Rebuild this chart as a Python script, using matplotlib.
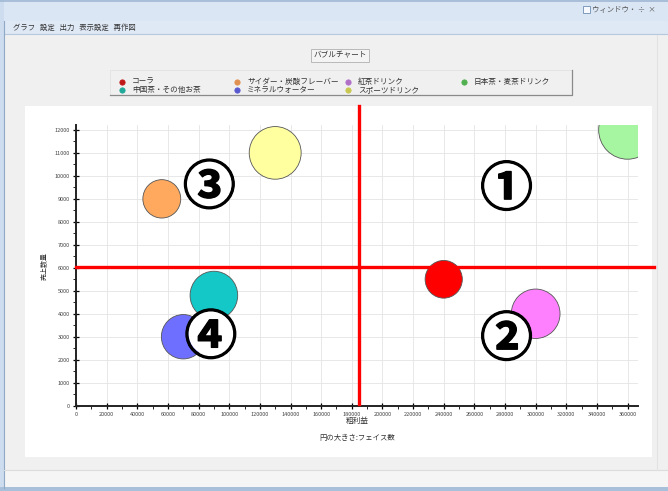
import numpy as np
import matplotlib.pyplot as plt
import matplotlib.patheffects as pe
from matplotlib.patches import Ellipse, Rectangle
from matplotlib.ticker import MultipleLocator

plt.rcParams['font.family'] = ['Noto Sans CJK JP', 'DejaVu Sans']

#   bubble data: gross profit (x), sales quantity (y), face count (circle size)
products = ["コーラ", "サイダー・炭酸フレーバー", "紅茶ドリンク", "日本茶・麦茶ドリンク",
            "中国茶・その他お茶", "ミネラルウォーター", "スポーツドリンク"]
gross_profit = [240000, 56000, 300000, 360000, 90000, 70000, 130000]
sales_qty = [5500, 9000, 4000, 12000, 4800, 3000, 11000]
faces = [16.4, 16.7, 21.5, 25.5, 21.0, 19.3, 22.9]
bubble_colors = ["#ff0000", "#ffa95e", "#ff80ff", "#a6f5a0", "#14c8c8", "#6f6fff", "#ffffa0"]
legend_colors = ["#c01818", "#e09050", "#b070c8", "#50b050", "#20a898", "#5858d0", "#c8c850"]

#   quadrant split lines and numbers
split_x = 185000
split_y = 6030
quad_labels = ["①", "②", "③", "④"]
quad_x = [281000, 281000, 87000, 88000]
quad_y = [9380, 2850, 9450, 2930]

x_ticks = list(range(0, 380000, 20000))
y_ticks = list(range(0, 13000, 1000))

W, H = 668, 491
fig = plt.figure(figsize=(W / 100, H / 100), dpi=100)

#   window chrome drawn in pixel coordinates
bg = fig.add_axes([0, 0, 1, 1])
bg.set_xlim(0, W)
bg.set_ylim(H, 0)
bg.axis("off")


def box(x0, y0, x1, y1, color, **kw):
    bg.add_patch(Rectangle((x0, y0), x1 - x0, y1 - y0, facecolor=color, **kw))


box(0, 0, W, H, "#f0f0f0", edgecolor="none")
box(0, 0, W, 21, "#dbe6f4", edgecolor="none")
bg.plot([0, W], [1, 1], color="#9fb7d3", lw=1.2)
box(4, 21, W, 34, "#dfe8f5", edgecolor="none")
bg.plot([4, W], [34, 34], color="#b8c8dc", lw=0.8)
box(0, 0, 4, H, "#cddcee", edgecolor="none")
bg.plot([4, 4], [21, 488], color="#8fa9c6", lw=0.8)
box(25, 106, 652, 457, "white", edgecolor="none")
box(4, 470, W, 487, "#f5f5f5", edgecolor="none")
bg.plot([4, W], [470, 470], color="#dcdcdc", lw=0.8)
box(0, 487, W, H, "#a9c0db", edgecolor="none")
bg.plot([657, 657], [35, 470], color="#e2e2e2", lw=0.8)

bg.text(13, 27.5, "グラフ   設定   出力   表示設定   再作図", fontsize=5.3, color="#333333",
        va="center", ha="left")
box(583, 6, 590, 13, "#f6f9fd", edgecolor="#6f8fb5", lw=0.6)
bg.text(592, 9.5, "ウィンドウ・ ÷  ×", fontsize=5.3, color="#555555", va="center", ha="left")

#   chart title
box(311, 49, 369, 62, "#f4f4f4", edgecolor="#b0b0b0", lw=0.6)
bg.text(340, 55.5, "バブルチャート", fontsize=5.5, color="#333333", ha="center", va="center")

#   legend box
box(110, 70, 572, 95, "none", edgecolor="#e2e2e2", lw=0.6)
bg.plot([110, 572, 572], [95, 95, 70], color="#8a8a8a", lw=0.9)
leg_x = [122, 237, 348, 464, 122, 237, 348]
leg_y = [81.5, 81.5, 81.5, 81.5, 90, 90, 90]
for i in range(len(products)):
    bg.plot(leg_x[i], leg_y[i], "o", ms=3.8, mfc=legend_colors[i], mec=legend_colors[i], mew=0.6)
    bg.text(leg_x[i] + 10, leg_y[i], products[i], fontsize=5.5, color="#333333",
            ha="left", va="center")

#   bubble chart axes
ax = fig.add_axes([76 / W, 1 - 405.7 / H, 562 / W, 280.4 / H])
ax.set_facecolor("white")
ax.set_xlim(0, 366800)
ax.set_ylim(0, 12200)

for i in range(len(products)):
    h = faces[i] * 100
    e = Ellipse((gross_profit[i], sales_qty[i]), h * 14.8, h, facecolor=bubble_colors[i],
                edgecolor="#555555", lw=0.6, zorder=3)
    ax.add_patch(e)

ax.set_xticks(x_ticks)
ax.set_xticklabels([str(v) for v in x_ticks])
ax.set_yticks(y_ticks)
ax.set_yticklabels([str(v) for v in y_ticks])
ax.xaxis.set_minor_locator(MultipleLocator(10000))
ax.yaxis.set_minor_locator(MultipleLocator(500))
ax.tick_params(which="major", direction="inout", length=5, width=0.9, labelsize=4,
               labelcolor="#444444", pad=2)
ax.tick_params(which="minor", direction="out", length=2, width=0.6)
ax.grid(True, which="major", color="#e4e4e4", lw=0.6)
ax.set_axisbelow(True)
for s in ["top", "right"]:
    ax.spines[s].set_visible(False)
for s in ["left", "bottom"]:
    ax.spines[s].set_linewidth(1.4)
    ax.spines[s].set_color("#222222")

ax.set_ylabel("売上数量", fontsize=5, color="#333333", labelpad=4)
bg.text(357, 421, "粗利益", fontsize=5.5, color="#333333", ha="center", va="center")
bg.text(357, 438, "円の大きさ:フェイス数", fontsize=5.3, color="#333333", ha="center", va="center")

#   quadrant lines (drawn over the chart, reaching past the plot area)
ax.plot([split_x, split_x], [70, 13040], color="#ff0000", lw=2.4, clip_on=False, zorder=5)
ax.plot([0, 377000], [split_y, split_y], color="#ff0000", lw=2.4, clip_on=False, zorder=5)

#   circled numbers sit on a white disc
ax.scatter([x for x in quad_x], [y + 230 for y in quad_y], s=1050, color="white",
           edgecolors="none", zorder=6)
for i in range(len(quad_labels)):
    ax.text(quad_x[i], quad_y[i], quad_labels[i], fontsize=38, fontweight="bold",
            color="black", ha="center", va="center", zorder=7,
            path_effects=[pe.withStroke(linewidth=0.9, foreground="black")])

fig.savefig("out.png", dpi=100)
